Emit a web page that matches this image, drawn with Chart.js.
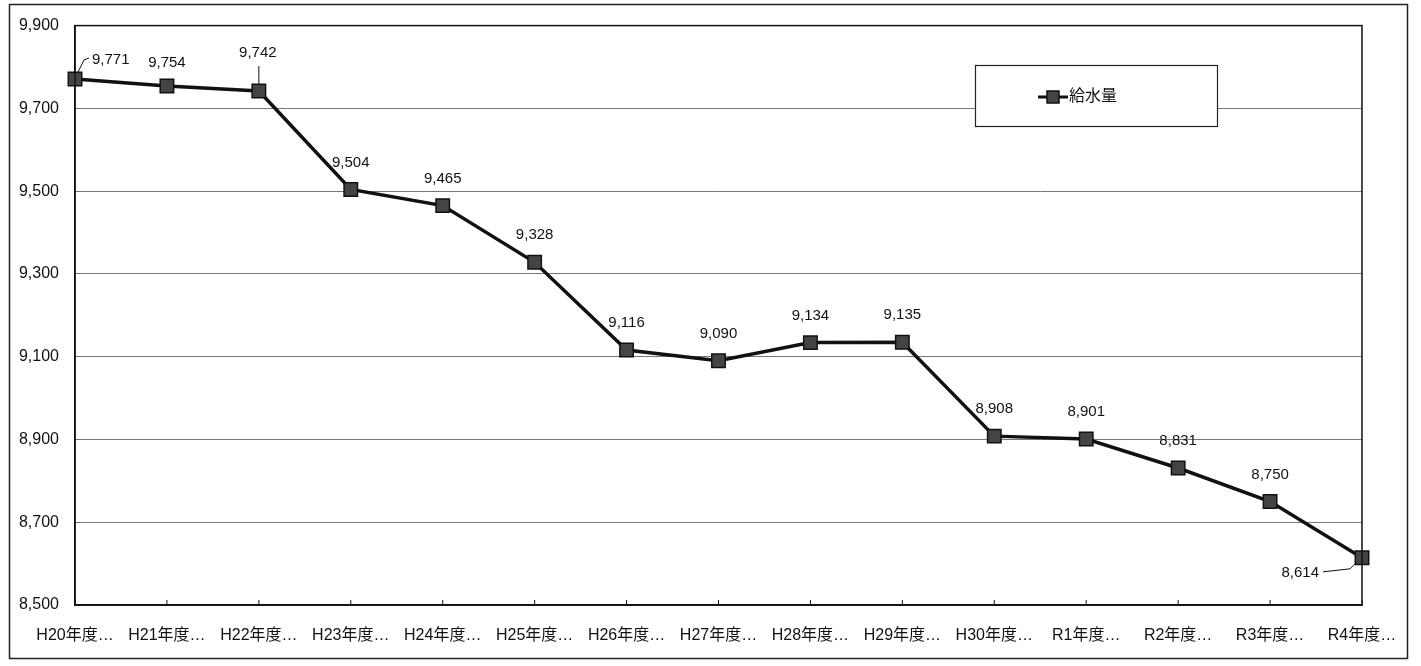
<!DOCTYPE html>
<html>
<head>
<meta charset="utf-8">
<script src="https://cdn.jsdelivr.net/npm/chart.js@4.4.1/dist/chart.umd.min.js"></script>
<style>
  html, body { margin: 0; padding: 0; background: #fff; }
  #wrap { width: 1421px; height: 666px; position: relative; }
</style>
</head>
<body>
<div id="wrap"><canvas id="c" width="1421" height="666"></canvas></div>
<script>
const categories = ["H20年度…", "H21年度…", "H22年度…", "H23年度…", "H24年度…", "H25年度…", "H26年度…", "H27年度…", "H28年度…", "H29年度…", "H30年度…", "R1年度…", "R2年度…", "R3年度…", "R4年度…"];
const supplyValues = [9771, 9754, 9742, 9504, 9465, 9328, 9116, 9090, 9134, 9135, 8908, 8901, 8831, 8750, 8614];
const seriesName = "給水量";
const yMin = 8500, yMax = 9900, yStep = 200;

const FONT = "'Liberation Sans', 'Noto Sans CJK JP', Arial, sans-serif";
const fmt = v => v.toLocaleString('en-US');

const framePlugin = {
  id: 'frame',
  beforeDraw(chart) {
    const ctx = chart.ctx;
    ctx.save();
    ctx.fillStyle = '#fff';
    ctx.fillRect(0, 0, chart.width, chart.height);
    ctx.strokeStyle = '#222';
    ctx.lineWidth = 1.5;
    ctx.strokeRect(9.5, 4.5, 1398, 654);
    ctx.restore();
  },
  afterDatasetsDraw(chart) {
    const ctx = chart.ctx;
    const a = chart.chartArea;
    ctx.save();
    ctx.strokeStyle = '#111';
    ctx.lineWidth = 1.5;
    ctx.strokeRect(a.left, a.top, a.right - a.left, a.bottom - a.top);
    const xs = chart.scales.x;
    ctx.lineWidth = 1;
    categories.forEach((c, i) => {
      const x = xs.getPixelForValue(i);
      ctx.beginPath();
      ctx.moveTo(x, a.bottom);
      ctx.lineTo(x, a.bottom - 5);
      ctx.stroke();
    });
    ctx.restore();
  }
};

const labelPlugin = {
  id: 'pointLabels',
  afterDatasetsDraw(chart) {
    const ctx = chart.ctx;
    const meta = chart.getDatasetMeta(0);
    const n = meta.data.length;
    ctx.save();
    ctx.font = '15px ' + FONT;
    ctx.fillStyle = '#111';
    ctx.strokeStyle = '#111';
    ctx.lineWidth = 1;
    ctx.textBaseline = 'middle';
    meta.data.forEach((pt, i) => {
      const v = chart.data.datasets[0].data[i];
      const t = fmt(v);
      const x = pt.x, y = pt.y;
      if (i === 0) {
        ctx.textAlign = 'left';
        ctx.fillText(t, x + 17, y - 19);
        ctx.beginPath();
        ctx.moveTo(x + 14, y - 21);
        ctx.lineTo(x + 9, y - 19);
        ctx.lineTo(x + 3, y - 7);
        ctx.stroke();
      } else if (i === 2) {
        ctx.textAlign = 'center';
        ctx.fillText(t, x - 1, y - 38);
        ctx.beginPath();
        ctx.moveTo(x, y - 25);
        ctx.lineTo(x, y - 6);
        ctx.stroke();
      } else if (i === n - 1) {
        ctx.textAlign = 'right';
        ctx.fillText(t, x - 43, y + 15);
        ctx.beginPath();
        ctx.moveTo(x - 39, y + 14);
        ctx.lineTo(x - 12, y + 11);
        ctx.lineTo(x - 5, y + 4);
        ctx.stroke();
      } else {
        ctx.textAlign = 'center';
        ctx.fillText(t, x, y - (i === 1 ? 23 : 27));
      }
    });
    ctx.restore();
  }
};

const legendPlugin = {
  id: 'boxLegend',
  afterDraw(chart) {
    const ctx = chart.ctx;
    const bx = 975, by = 65, bw = 242, bh = 61;
    ctx.save();
    ctx.fillStyle = '#fff';
    ctx.fillRect(bx, by, bw, bh);
    ctx.strokeStyle = '#222';
    ctx.lineWidth = 1.2;
    ctx.strokeRect(bx + 0.5, by + 0.5, bw, bh);
    const cy = by + 32;
    ctx.strokeStyle = '#111';
    ctx.lineWidth = 3;
    ctx.beginPath();
    ctx.moveTo(1038, cy);
    ctx.lineTo(1068, cy);
    ctx.stroke();
    ctx.fillStyle = '#444';
    ctx.lineWidth = 1.5;
    ctx.fillRect(1047, cy - 6, 12, 12);
    ctx.strokeRect(1047, cy - 6, 12, 12);
    ctx.fillStyle = '#111';
    ctx.font = '16px ' + FONT;
    ctx.textAlign = 'left';
    ctx.textBaseline = 'middle';
    ctx.fillText(chart.data.datasets[0].label, 1069, cy);
    ctx.restore();
  }
};

new Chart(document.getElementById('c'), {
  type: 'line',
  data: {
    labels: categories,
    datasets: [{
      label: seriesName,
      data: supplyValues,
      borderColor: '#111',
      borderWidth: 3.5,
      pointStyle: 'rect',
      pointRadius: 9.5,
      pointHoverRadius: 9.5,
      pointBackgroundColor: '#444',
      pointBorderColor: '#111',
      pointBorderWidth: 1.5,
      tension: 0,
      fill: false
    }]
  },
  options: {
    responsive: false,
    animation: false,
    devicePixelRatio: 1,
    layout: { padding: { top: 18, right: 59, bottom: 0, left: 0 } },
    plugins: {
      legend: { display: false },
      tooltip: { enabled: false }
    },
    scales: {
      x: {
        offset: false,
        grid: { display: false },
        border: { display: true, color: '#111', width: 1.5 },
        ticks: {
          color: '#111',
          font: { family: FONT, size: 16 },
          padding: 13,
          maxRotation: 0,
          autoSkip: false
        },
        afterFit(scale) { scale.height = 61; }
      },
      y: {
        min: yMin,
        max: yMax,
        grid: { color: '#777', lineWidth: 1, drawTicks: false },
        border: { display: true, color: '#111', width: 1.5 },
        ticks: {
          stepSize: yStep,
          color: '#111',
          font: { family: FONT, size: 16 },
          padding: 16,
          callback: v => fmt(v)
        },
        afterFit(scale) { scale.width = 75; }
      }
    }
  },
  plugins: [framePlugin, labelPlugin, legendPlugin]
});
</script>
</body>
</html>
